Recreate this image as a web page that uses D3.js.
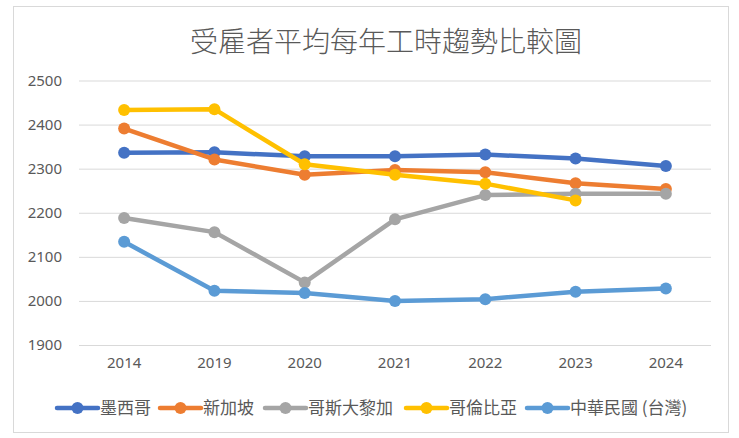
<!DOCTYPE html>
<html lang="zh-Hant">
<head>
  <meta charset="UTF-8" />
  <title>受雇者平均每年工時趨勢比較圖</title>
  <style>
    body { margin: 0; background: #fff; }
    svg text { fill: #595959; }
    .title { font: 200 28px "Noto Sans CJK TC", sans-serif; }
    .tick text { font: 15px "Noto Sans", sans-serif; }
    .legend text { font: 17px "Noto Sans CJK TC", sans-serif; }
  </style>
  <script src="https://cdn.jsdelivr.net/npm/d3@7"></script>
</head>
<body>
  <svg id="chart" width="739" height="438"></svg>
  <script>
    const years = ['2014', '2019', '2020', '2021', '2022', '2023', '2024'];
    const yTicks = [1900, 2000, 2100, 2200, 2300, 2400, 2500];

    const mexico = [2336, 2337, 2328, 2328, 2332, 2323, 2306];
    const singapore = [2391, 2321, 2286, 2297, 2292, 2267, 2254];
    const costaRica = [2188, 2156, 2042, 2185, 2240, 2243, 2243];
    const colombia = [2433, 2435, 2310, 2286, 2266, 2228, null];
    const taiwan = [2134, 2023, 2018, 2000, 2004, 2021, 2028];

    const seriesNames = ['墨西哥', '新加坡', '哥斯大黎加', '哥倫比亞', '中華民國 (台灣)'];
    const colors = ['#4472C4', '#ED7D31', '#A5A5A5', '#FFC000', '#5B9BD5'];

    const series = [mexico, singapore, costaRica, colombia, taiwan].map((values, i) => ({
      name: seriesNames[i],
      color: colors[i],
      values: values
    }));

    const svg = d3.select('#chart');

    // chart frame
    svg.append('rect')
      .attr('x', 13.5).attr('y', 6.5)
      .attr('width', 715).attr('height', 426)
      .attr('fill', '#fff')
      .attr('stroke', '#d9d9d9');

    svg.append('text')
      .attr('class', 'title')
      .attr('x', 386).attr('y', 52)
      .attr('text-anchor', 'middle')
      .text('受雇者平均每年工時趨勢比較圖');

    const x = d3.scaleBand().domain(years).range([79, 711]);
    const y = d3.scaleLinear().domain([1900, 2500]).range([345, 80.5]);

    // gridlines + y labels
    const yAxis = svg.append('g')
      .attr('transform', 'translate(79,0)')
      .call(d3.axisLeft(y).tickValues(yTicks).tickSize(-632).tickPadding(17).tickFormat(d3.format('d')));
    yAxis.select('.domain').remove();
    yAxis.selectAll('.tick line').attr('stroke', '#d9d9d9');

    const xAxis = svg.append('g')
      .attr('transform', 'translate(0,345)')
      .call(d3.axisBottom(x).tickSize(0).tickPadding(12));
    xAxis.select('.domain').remove();

    const line = d3.line()
      .defined(d => d != null)
      .x((d, i) => x(years[i]) + x.bandwidth() / 2)
      .y(d => y(d));

    const g = svg.append('g');
    series.forEach(s => {
      g.append('path')
        .attr('d', line(s.values))
        .attr('fill', 'none')
        .attr('stroke', s.color)
        .attr('stroke-width', 4.5)
        .attr('stroke-linejoin', 'round')
        .attr('stroke-linecap', 'round');
      g.selectAll(null)
        .data(s.values.map((v, i) => ({ v, i })).filter(d => d.v != null))
        .enter()
        .append('circle')
        .attr('cx', d => x(years[d.i]) + x.bandwidth() / 2)
        .attr('cy', d => y(d.v))
        .attr('r', 6)
        .attr('fill', s.color);
    });

    // legend
    const legendX = [57, 160, 265, 406, 527];
    const legend = svg.append('g').attr('class', 'legend');
    series.forEach((s, i) => {
      const lg = legend.append('g').attr('transform', `translate(${legendX[i]},408)`);
      lg.append('line')
        .attr('x1', 0).attr('x2', 41)
        .attr('stroke', s.color).attr('stroke-width', 4.5)
        .attr('stroke-linecap', 'round');
      lg.append('circle').attr('cx', 20.5).attr('r', 6).attr('fill', s.color);
      lg.append('text')
        .attr('x', 43).attr('y', 6)
        .text(s.name);
    });
  </script>
</body>
</html>
